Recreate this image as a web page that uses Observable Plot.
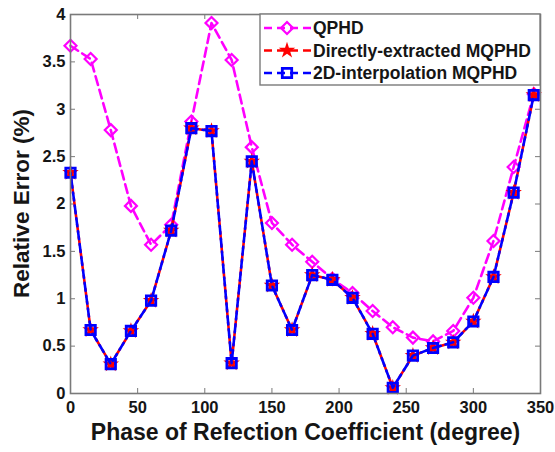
<!DOCTYPE html>
<html>
<head>
<meta charset="utf-8">
<script src="https://cdn.jsdelivr.net/npm/d3@7"></script>
<script src="https://cdn.jsdelivr.net/npm/@observablehq/plot@0.6"></script>
<style>
  html, body { margin: 0; padding: 0; background: #fff; }
  #chart { width: 555px; height: 452px; }
</style>
</head>
<body>
<div id="chart"></div>
<script>
// Phase of the reflection coefficient (degrees)
const phase = [0, 15, 30, 45, 60, 75, 90, 105, 120, 135, 150, 165, 180, 195, 210, 225, 240, 255, 270, 285, 300, 315, 330, 345];
// Relative error (%) of each model
const qphd = [3.67, 3.53, 2.78, 1.98, 1.57, 1.78, 2.87, 3.91, 3.52, 2.60, 1.80, 1.57, 1.39, 1.21, 1.06, 0.87, 0.70, 0.59, 0.55, 0.66, 1.01, 1.61, 2.39, 3.16];
const directMqphd = [2.33, 0.67, 0.31, 0.66, 0.98, 1.72, 2.80, 2.77, 0.32, 2.45, 1.14, 0.67, 1.25, 1.20, 1.01, 0.63, 0.06, 0.40, 0.48, 0.54, 0.76, 1.23, 2.12, 3.15];
const interpMqphd = [2.33, 0.67, 0.31, 0.66, 0.98, 1.72, 2.80, 2.77, 0.32, 2.45, 1.14, 0.67, 1.25, 1.20, 1.01, 0.63, 0.06, 0.40, 0.48, 0.54, 0.76, 1.23, 2.12, 3.15];
const seriesNames = ["QPHD", "Directly-extracted MQPHD", "2D-interpolation MQPHD"];
const xTicks = [0, 50, 100, 150, 200, 250, 300, 350];
const yTicks = [0, 0.5, 1, 1.5, 2, 2.5, 3, 3.5, 4];
const xLabel = "Phase of Refection Coefficient (degree)";
const yLabel = "Relative Error (%)";

const W = 555, H = 452;
const M = {top: 14, right: 15, bottom: 59, left: 70};
const innerH = H - M.top - M.bottom;
const innerW = W - M.left - M.right;
const tickLen = 5;
const axisColor = "#7a7a7a";
const textColor = "#151515";
const font = "'Liberation Sans', Arial, sans-serif";

const rows = (ys) => phase.map((x, i) => ({x, y: ys[i]}));
const qRows = rows(qphd), dRows = rows(directMqphd), iRows = rows(interpMqphd);

const chart = Plot.plot({
  width: W, height: H,
  marginTop: M.top, marginRight: M.right, marginBottom: M.bottom, marginLeft: M.left,
  style: {fontFamily: font, background: "#fff", overflow: "visible"},
  x: {domain: [0, 350]},
  y: {domain: [0, 4]},
  marks: [
    // tick marks pointing inward on all four sides
    Plot.ruleX(xTicks, {x: d => d, insetTop: innerH - tickLen, stroke: axisColor, strokeWidth: 1}),
    Plot.ruleX(xTicks, {x: d => d, insetBottom: innerH - tickLen, stroke: axisColor, strokeWidth: 1}),
    Plot.ruleY(yTicks, {y: d => d, insetRight: innerW - tickLen, stroke: axisColor, strokeWidth: 1}),
    Plot.ruleY(yTicks, {y: d => d, insetLeft: innerW - tickLen, stroke: axisColor, strokeWidth: 1}),
    Plot.axisX({ticks: xTicks, tickSize: 0, tickPadding: 8, fontSize: 16.5, fontWeight: "bold", fill: textColor, label: null}),
    Plot.axisY({ticks: yTicks, tickSize: 0, tickPadding: 5, fontSize: 16.5, fontWeight: "bold", fill: textColor,
      tickFormat: d => String(d), label: null}),
    // x axis title
    Plot.text([xLabel], {text: d => d, frameAnchor: "bottom", dy: 46, fontSize: 23, fontWeight: "bold", fill: textColor}),
    // QPHD
    Plot.line(qRows, {x: "x", y: "y", stroke: "#ff00ff", strokeWidth: 2.6, strokeDasharray: "9,5"}),
    Plot.dot(qRows, {x: "x", y: "y", symbol: "diamond2", r: 5.4, stroke: "#ff00ff", strokeWidth: 2.2, fill: "none"}),
    // directly-extracted MQPHD
    Plot.line(dRows, {x: "x", y: "y", stroke: "#ff0000", strokeWidth: 2.6, strokeDasharray: "8,5"}),
    Plot.dot(dRows, {x: "x", y: "y", symbol: "star", r: 5.2, fill: "#ff0000", stroke: "none"}),
    // 2D-interpolation MQPHD
    Plot.line(iRows, {x: "x", y: "y", stroke: "#0000ff", strokeWidth: 2.6, strokeDasharray: "8,5", strokeDashoffset: 6}),
    Plot.dot(iRows, {x: "x", y: "y", symbol: "square", r: 5.3, stroke: "#0000ff", strokeWidth: 2.8, fill: "none"}),
    Plot.frame({stroke: axisColor, strokeWidth: 1.6})
  ]
});

document.getElementById("chart").appendChild(chart);

const svg = d3.select(chart);

// y axis title, centred on the plot area
svg.append("text")
  .attr("transform", `translate(21,${M.top + innerH / 2}) rotate(-90)`)
  .attr("text-anchor", "middle").attr("dominant-baseline", "central")
  .attr("font-family", font).attr("font-size", 22.5).attr("font-weight", "bold")
  .attr("fill", textColor).text(yLabel);

// legend box in the upper right corner of the axes
const lg = svg.append("g").attr("font-family", font).attr("text-anchor", "start");
const box = {x0: 260, x1: W - M.right, y0: M.top, y1: 85};
lg.append("rect").attr("x", box.x0).attr("y", box.y0)
  .attr("width", box.x1 - box.x0).attr("height", box.y1 - box.y0)
  .attr("fill", "#fff").attr("stroke", axisColor).attr("stroke-width", 1.4);

const legendStyles = [
  {color: "#ff00ff", symbol: d3.symbolDiamond2, size: Math.PI * 5.4 * 5.4, fill: "none", stroke: "#ff00ff", sw: 2.2},
  {color: "#ff0000", symbol: d3.symbolStar, size: Math.PI * 5.2 * 5.2, fill: "#ff0000", stroke: "none", sw: 0},
  {color: "#0000ff", symbol: d3.symbolSquare, size: Math.PI * 5.3 * 5.3, fill: "none", stroke: "#0000ff", sw: 2.8}
];
seriesNames.forEach((name, i) => {
  const cy = 28 + i * 22.5;
  const st = legendStyles[i];
  lg.append("line").attr("x1", 264).attr("x2", 311).attr("y1", cy).attr("y2", cy)
    .attr("stroke", st.color).attr("stroke-width", 2.6).attr("stroke-dasharray", "8,5");
  lg.append("path").attr("d", d3.symbol(st.symbol, st.size)())
    .attr("transform", `translate(287,${cy})`)
    .attr("fill", st.fill).attr("stroke", st.stroke).attr("stroke-width", st.sw);
  lg.append("text").attr("x", 313).attr("y", cy).attr("dy", "0.35em")
    .attr("font-size", 17.5).attr("font-weight", "bold").attr("fill", textColor).text(name);
});
</script>
</body>
</html>
